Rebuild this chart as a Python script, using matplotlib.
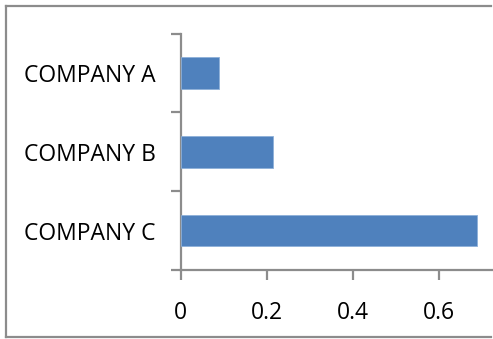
import matplotlib
matplotlib.use("Agg")
import matplotlib.pyplot as plt
from matplotlib.lines import Line2D

categories = ["COMPANY A", "COMPANY B", "COMPANY C"]
values = [0.090, 0.216, 0.689]
x_ticks = [0, 0.2, 0.4, 0.6]
x_tick_labels = ["0", "0.2", "0.4", "0.6"]

W, H = 493, 339
fig = plt.figure(figsize=(W / 100, H / 100), dpi=100)
fig.patch.set_facecolor("white")
fig.patch.set_edgecolor("white")
fig.patch.set_linewidth(0)

# Outer chart frame: left, top and bottom edges (right side runs past the edge)
frame_col = "#8c8c8c"
fx0, fx1, fy0, fy1 = 5.5 / W, 0.995, (H - 337) / H, (H - 6) / H
for xs, ys in (([fx0, fx0], [fy0, fy1]),
               ([fx0, fx1], [fy1, fy1]),
               ([fx0, fx1], [fy0, fy0])):
    fig.add_artist(Line2D(xs, ys, transform=fig.transFigure,
                          color=frame_col, linewidth=1.6))

left_px, right_px = 180.5, 180.5 + 430 * 0.8
top_px, bottom_px = 33.5, 270.0
ax = fig.add_axes([left_px / W, (H - bottom_px) / H,
                   (right_px - left_px) / W, (bottom_px - top_px) / H])
ax.set_facecolor("none")

n = len(categories)
ypos = list(range(n))[::-1]
ax.barh(ypos, values, height=0.4, color="#4f81bd", edgecolor="#8eb0d9",
        linewidth=0.6, zorder=3)

ax.set_xlim(0, 0.8)
ax.set_ylim(-0.5, n - 0.5)

font = "Open Sans"
ax.set_xticks(x_ticks)
ax.set_xticklabels(x_tick_labels, fontfamily=font, fontsize=16.5)
ax.set_yticks([i - 0.5 for i in range(n + 1)])
ax.set_yticklabels([])
ax.set_yticks(ypos, minor=True)
ax.set_yticklabels(categories, minor=True, fontfamily=font, fontsize=16.5)

axis_col = "#8c8c8c"
ax.tick_params(axis="x", which="major", direction="out", length=7, width=1.6,
               color=axis_col, pad=15, labelcolor="black")
ax.tick_params(axis="y", which="major", direction="out", length=7, width=1.6,
               color=axis_col)
ax.tick_params(axis="y", which="minor", length=0, pad=18, labelcolor="black")

for s in ("top", "right"):
    ax.spines[s].set_visible(False)
for s in ("left", "bottom"):
    ax.spines[s].set_color(axis_col)
    ax.spines[s].set_linewidth(1.6)

fig.savefig("out.png", dpi=100)
